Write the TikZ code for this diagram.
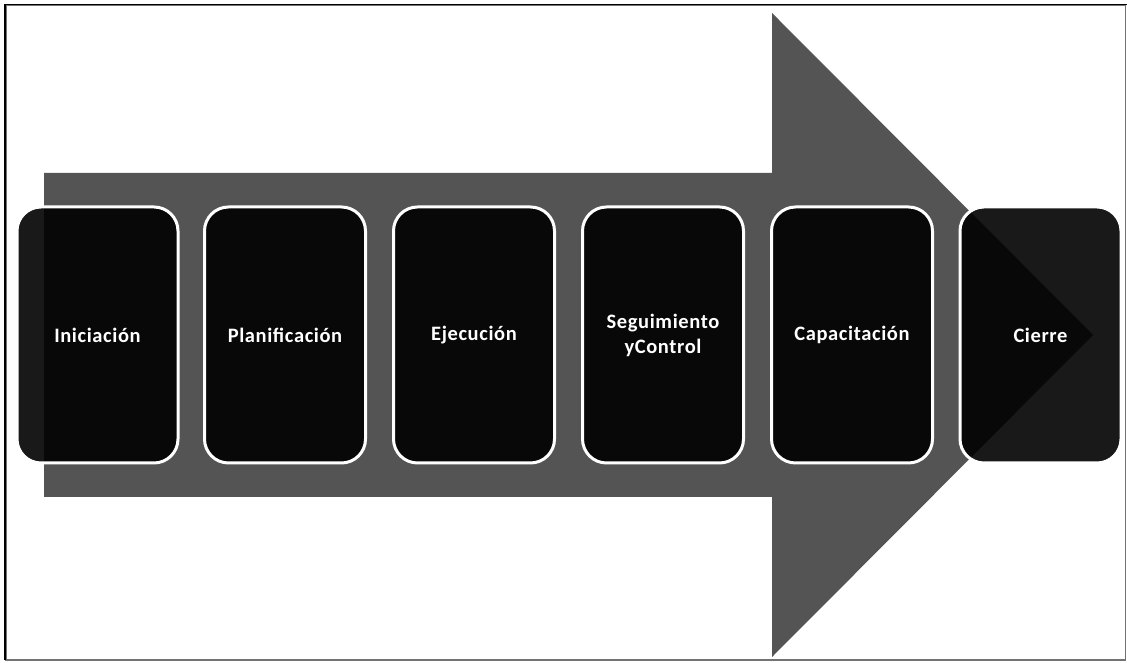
\documentclass[tikz,border=0pt]{standalone}
\usepackage{fontspec}
\setmainfont{Carlito}
\begin{document}
\begin{tikzpicture}[x=1pt,y=1pt,
  stagebox/.style={rounded corners=24pt, fill=black, fill opacity=0.9, text opacity=1,
    draw=white, draw opacity=1, line width=3pt, minimum width=161pt, minimum height=256pt,
    text=white, align=center, inner sep=0pt,
    font=\fontsize{20.5}{25}\selectfont\bfseries\addfontfeatures{LetterSpace=3}},
  arrowbody/.style={fill=black!67, draw=none}]
\useasboundingbox (0,0) rectangle (1127,663);
\fill[white] (0,0) rectangle (1127,663);
% frame
\draw[black!55, line width=1.5pt] (6,3) rectangle (1125.5,657.5);
\draw[black, line width=1.2pt] (5,3) -- (5,658.5) -- (1127,658.5);
% big arrow
\fill[arrowbody] (44,490) -- (772,490) -- (772,650) -- (1093,328) -- (772,6) -- (772,166) -- (44,166) -- cycle;
% stages
\node[stagebox] (s1) at (97.5,328) {Iniciación};
\node[stagebox] (s2) at (285,328) {Planificación};
\node[stagebox] (s3) at (474,328) {Ejecución};
\node[stagebox] (s4) at (663,328) {Seguimiento\\yControl};
\node[stagebox] (s5) at (852,328) {Capacitación};
\node[stagebox] (s6) at (1040.5,328) {Cierre};
\end{tikzpicture}
\end{document}
